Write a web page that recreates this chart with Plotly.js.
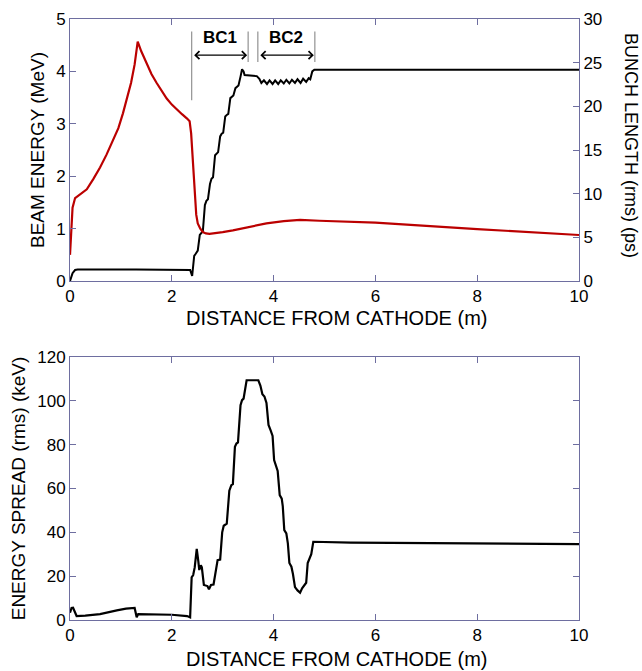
<!DOCTYPE html>
<html>
<head>
<meta charset="utf-8">
<script src="https://cdn.plot.ly/plotly-3.0.1.min.js"></script>
<style>html,body{margin:0;padding:0;background:#fff;}#chart{width:642px;height:671px;}</style>
</head>
<body>
<div id="chart"></div>
<script>
// Beam energy (MeV) vs distance (m) – black, left axis
const energyX = [0, 0.05, 0.1, 0.15, 1.3, 2.3, 2.36, 2.40, 2.44, 2.47, 2.51, 2.55, 2.58, 2.61, 2.65, 2.68, 2.71, 2.75, 2.78, 2.81, 2.85, 2.88, 2.91, 2.95, 2.98, 3.01, 3.05, 3.08, 3.11, 3.15, 3.18, 3.21, 3.25, 3.28, 3.31, 3.35, 3.38, 3.41, 3.43, 3.67, 3.72, 3.76, 3.81, 3.87, 3.92, 3.98, 4.03, 4.09, 4.14, 4.20, 4.25, 4.31, 4.36, 4.42, 4.47, 4.53, 4.58, 4.64, 4.69, 4.72, 4.76, 4.80, 10];
const energyY = [0, 0.15, 0.21, 0.22, 0.22, 0.22, 0.21, 0.10, 0.48, 0.52, 0.58, 0.88, 0.92, 0.95, 1.45, 1.53, 1.56, 1.85, 1.95, 1.98, 2.40, 2.44, 2.46, 2.76, 2.81, 2.83, 3.14, 3.17, 3.19, 3.49, 3.52, 3.54, 3.68, 3.71, 3.73, 3.90, 4.04, 4.00, 3.93, 3.91, 3.86, 3.78, 3.83, 3.76, 3.83, 3.76, 3.83, 3.76, 3.83, 3.77, 3.84, 3.77, 3.84, 3.78, 3.85, 3.78, 3.86, 3.80, 3.87, 3.85, 4.00, 4.03, 4.03];

// Bunch length (rms, ps) – red, right axis
const bunchX = [0, 0.02, 0.05, 0.1, 0.2, 0.33, 0.46, 0.59, 0.72, 0.85, 0.95, 1.04, 1.12, 1.2, 1.27, 1.33, 1.4, 1.5, 1.6, 1.7, 1.8, 1.9, 2.0, 2.1, 2.2, 2.3, 2.35, 2.38, 2.40, 2.42, 2.45, 2.48, 2.51, 2.56, 2.61, 2.67, 2.74, 2.85, 3.0, 3.2, 3.5, 3.86, 4.2, 4.52, 4.9, 6, 8, 10];
const bunchY = [3.0, 6.0, 8.4, 9.5, 9.9, 10.5, 11.7, 13.0, 14.5, 16.1, 17.5, 19.2, 20.8, 22.7, 24.8, 27.4, 26.3, 24.9, 23.7, 22.7, 21.8, 20.9, 20.2, 19.6, 19.1, 18.6, 18.3, 16.9, 15.0, 13.1, 9.3, 7.6, 6.6, 6.0, 5.6, 5.45, 5.4, 5.45, 5.6, 5.8, 6.2, 6.6, 6.85, 7.0, 6.9, 6.68, 5.95, 5.27];

// Energy spread (rms, keV) – bottom panel
const spreadX = [0, 0.03, 0.06, 0.09, 0.13, 0.3, 0.59, 0.92, 1.1, 1.27, 1.29, 1.31, 1.34, 1.6, 2.0, 2.3, 2.36, 2.39, 2.42, 2.45, 2.49, 2.52, 2.54, 2.57, 2.59, 2.63, 2.70, 2.73, 2.77, 2.82, 2.86, 2.90, 2.95, 2.99, 3.02, 3.08, 3.13, 3.17, 3.20, 3.24, 3.27, 3.30, 3.35, 3.38, 3.41, 3.47, 3.70, 3.74, 3.78, 3.82, 3.86, 3.90, 3.94, 3.98, 4.01, 4.05, 4.08, 4.12, 4.16, 4.18, 4.21, 4.25, 4.28, 4.31, 4.35, 4.38, 4.42, 4.47, 4.52, 4.56, 4.60, 4.64, 4.67, 4.71, 4.74, 4.78, 5.5, 5.52, 10];
const spreadY = [3.3, 5.5, 5.6, 4.0, 1.8, 2.0, 2.7, 4.4, 5.2, 5.5, 3.0, 1.3, 2.7, 2.6, 2.4, 1.8, 1.2, 19.5, 20.5, 24, 32.5, 27, 22.8, 25, 24, 16, 15.5, 14, 16, 16.2, 22, 27.3, 27.6, 40, 43, 44, 59, 61.5, 62, 79, 80.5, 81, 98, 100.3, 101, 109.4, 109.4, 107, 103, 102, 99, 89, 86.6, 84, 73, 70.6, 68, 57, 55.4, 52, 41, 39.5, 35, 26, 24.3, 21, 15, 13.5, 12.5, 14.5, 15.5, 17, 26, 28.8, 30, 35.7, 35.6, 35.3, 34.6];

// Bunch compressor labels
const bcLabels = ['BC1', 'BC2'];
const bcStart = [2.39, 3.69];
const bcEnd = [3.50, 4.81];

const FONT = 'Liberation Sans, Arial, Helvetica, sans-serif';
const AX = '#6e6ea0';

const traces = [
  {x: energyX, y: energyY, xaxis: 'x', yaxis: 'y', mode: 'lines', line: {color: '#000000', width: 2}, hoverinfo: 'skip'},
  {x: bunchX, y: bunchY, xaxis: 'x', yaxis: 'y2', mode: 'lines', line: {color: '#bb0000', width: 2.2}, hoverinfo: 'skip'},
  {x: spreadX, y: spreadY, xaxis: 'x2', yaxis: 'y3', mode: 'lines', line: {color: '#000000', width: 2.2}, hoverinfo: 'skip'}
];

function axisBase(extra) {
  return Object.assign({
    showline: true, linecolor: AX, linewidth: 1,
    ticks: 'inside', ticklen: 6, tickcolor: AX, tickwidth: 1,
    showgrid: false, zeroline: false,
    tickfont: {family: FONT, size: 17, color: '#000'}
  }, extra);
}

const titleFont = {family: FONT, size: 19, color: '#000'};
const xTitleFont = {family: FONT, size: 20, color: '#000'};

const shapes = [];
const annotations = [];
bcLabels.forEach((lab, i) => {
  const yTop = 4.76, yLow = i === 0 ? 3.45 : 4.18;
  shapes.push({type: 'line', xref: 'x', yref: 'y', x0: bcStart[i], x1: bcStart[i], y0: yLow, y1: yTop, line: {color: '#9a9a9a', width: 1.3}});
  shapes.push({type: 'line', xref: 'x', yref: 'y', x0: bcEnd[i], x1: bcEnd[i], y0: 4.18, y1: yTop, line: {color: '#9a9a9a', width: 1.3}});
  annotations.push({xref: 'x', yref: 'y', axref: 'x', ayref: 'y', x: bcEnd[i] - 0.02, y: 4.31, ax: bcStart[i] + 0.02, ay: 4.31,
    text: '', showarrow: true, arrowside: 'end+start', arrowhead: 4, startarrowhead: 4, arrowsize: 1.3, startarrowsize: 1.3, arrowwidth: 1.2, arrowcolor: '#000'});
  annotations.push({xref: 'x', yref: 'y', x: (bcStart[i] + bcEnd[i]) / 2, y: 4.64, text: '<b>' + lab + '</b>', showarrow: false,
    font: {family: FONT, size: 17, color: '#000'}});
});
annotations.push({xref: 'paper', yref: 'paper', x: 1.102, y: 0.789, text: 'BUNCH LENGTH (rms) (ps)', textangle: 90, showarrow: false,
  font: {family: FONT, size: 18, color: '#000'}, xanchor: 'center', yanchor: 'middle'});
annotations.push({xref: 'paper', yref: 'paper', x: 0.523, y: 0.5025, text: 'DISTANCE FROM CATHODE (m)', showarrow: false,
  font: xTitleFont, xanchor: 'center', yanchor: 'middle'});
annotations.push({xref: 'paper', yref: 'paper', x: 0.523, y: -0.0649, text: 'DISTANCE FROM CATHODE (m)', showarrow: false,
  font: xTitleFont, xanchor: 'center', yanchor: 'middle'});

const layout = {
  width: 642, height: 671,
  margin: {l: 70, r: 63, t: 19, b: 51},
  paper_bgcolor: '#fff', plot_bgcolor: '#fff',
  showlegend: false,
  font: {family: FONT, color: '#000'},
  xaxis: axisBase({domain: [0, 1], anchor: 'y', range: [0, 10], dtick: 2, mirror: 'ticks', ticklabelstandoff: 0}),
  yaxis: axisBase({domain: [0.564, 1], anchor: 'x', range: [0, 5], dtick: 1, mirror: true,
    title: {text: 'BEAM ENERGY (MeV)', font: titleFont, standoff: 6}}),
  yaxis2: axisBase({overlaying: 'y', side: 'right', anchor: 'x', range: [0, 30], dtick: 5}),
  xaxis2: axisBase({domain: [0, 1], anchor: 'y3', range: [0, 10], dtick: 2, mirror: 'ticks', ticklabelstandoff: 0}),
  yaxis3: axisBase({domain: [0, 0.4376], anchor: 'x2', range: [0, 120], dtick: 20, mirror: 'ticks',
    title: {text: 'ENERGY SPREAD (rms) (keV)', font: titleFont, standoff: 6}}),
  shapes: shapes,
  annotations: annotations
};

Plotly.newPlot('chart', traces, layout, {displayModeBar: false, staticPlot: true});
</script>
</body>
</html>
